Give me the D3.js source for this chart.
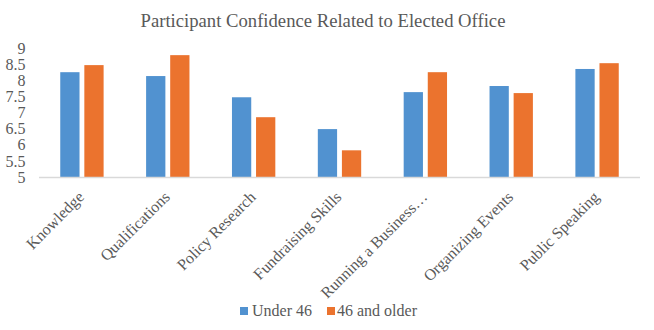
<!DOCTYPE html>
<html>
<head>
<meta charset="utf-8">
<script src="https://cdn.jsdelivr.net/npm/d3@7/dist/d3.min.js"></script>
<style>
  html, body { margin: 0; padding: 0; background: #fff; }
  svg { display: block; }
  text { font-family: "Liberation Serif", "Times New Roman", serif; fill: #595959; }
</style>
</head>
<body>
<svg id="chart" width="654" height="330"></svg>
<script>
// Survey results: mean confidence score by skill area and age group
const categories = [
  "Knowledge", "Qualifications", "Policy Research", "Fundraising Skills",
  "Running a Business\u2026", "Organizing Events", "Public Speaking"
];
const seriesNames = ["Under 46", "46 and older"];
const under46 = [8.26, 8.14, 7.48, 6.49, 7.64, 7.83, 8.36];
const over46 = [8.48, 8.79, 6.86, 5.83, 8.26, 7.61, 8.54];
const yTicks = [5, 5.5, 6, 6.5, 7, 7.5, 8, 8.5, 9];
const colors = ["#5192d0", "#eb732e"];

const svg = d3.select("#chart");

const plot = { left: 39, right: 640, top: 48.4, bottom: 177 };

const x0 = d3.scaleBand()
  .domain(categories)
  .range([plot.left, plot.right])
  .paddingInner(0.495)
  .paddingOuter(0.2475);

const x1 = d3.scaleBand()
  .domain(seriesNames)
  .range([0, x0.bandwidth()])
  .paddingInner(0.2);

const y = d3.scaleLinear()
  .domain([5, 9])
  .range([plot.bottom, plot.top]);

const values = [under46, over46];

// Title
svg.append("text")
  .attr("x", 323)
  .attr("y", 26.7)
  .attr("text-anchor", "middle")
  .style("font-size", "18.67px")
  .text("Participant Confidence Related to Elected Office");

// Bars
const groups = svg.append("g").selectAll("g")
  .data(categories)
  .join("g")
  .attr("transform", d => `translate(${x0(d)},0)`);

groups.selectAll("rect")
  .data((d, i) => seriesNames.map((s, j) => ({ s, v: values[j][i], c: colors[j] })))
  .join("rect")
  .attr("x", d => x1(d.s))
  .attr("width", x1.bandwidth())
  .attr("y", d => y(d.v))
  .attr("height", d => y(5) - y(d.v))
  .attr("fill", d => d.c);

// Y axis labels (no axis line or tick marks)
const yAxis = d3.axisLeft(y).tickValues(yTicks).tickSize(0).tickPadding(0)
  .tickFormat(d3.format(""));
const yg = svg.append("g")
  .attr("transform", "translate(25.5,0)")
  .call(yAxis);
yg.select(".domain").remove();
yg.selectAll("text")
  .style("font-size", "16px")
  .style("font-family", "'Liberation Serif', 'Times New Roman', serif")
  .attr("fill", "#595959");

// X axis: baseline plus rotated category labels
const xAxis = d3.axisBottom(x0).tickSize(0).tickPadding(0);
const xg = svg.append("g")
  .attr("transform", `translate(0,${plot.bottom})`)
  .call(xAxis);
xg.select(".domain")
  .attr("d", `M${plot.left},0.5H${plot.right}`)
  .attr("stroke", "#d9d9d9")
  .attr("stroke-width", 1.3);
xg.selectAll(".tick text")
  .style("font-size", "16px")
  .style("font-family", "'Liberation Serif', 'Times New Roman', serif")
  .attr("fill", "#595959")
  .attr("text-anchor", "end")
  .attr("y", 0)
  .attr("dy", 0)
  .attr("transform", "translate(3,21) rotate(-45)");

// Legend
const legendItems = [
  { name: seriesNames[0], color: colors[0], x: 240 },
  { name: seriesNames[1], color: colors[1], x: 327 }
];
const lg = svg.append("g").selectAll("g")
  .data(legendItems)
  .join("g")
  .attr("transform", d => `translate(${d.x},307)`);
lg.append("rect")
  .attr("width", 8).attr("height", 8)
  .attr("fill", d => d.color);
lg.append("text")
  .attr("x", d => d === legendItems[0] ? 12 : 10)
  .attr("y", 9.2)
  .style("font-size", "16px")
  .text(d => d.name);
</script>
</body>
</html>
